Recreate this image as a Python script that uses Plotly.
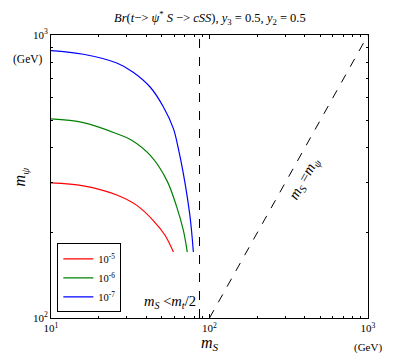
import plotly.graph_objects as go

# m_S (GeV) and m_psi (GeV), one curve per Br value
ms_1e5 = [10, 16.0, 26.0, 34.8, 44.2, 52.4, 59.2]
mpsi_1e5 = [300, 293, 272, 250, 221, 196, 171]

ms_1e6 = [10, 16.0, 26.0, 32.3, 42.2, 53.7, 62.1, 68.4, 72.4]
mpsi_1e6 = [505, 490, 448, 425, 376, 307, 247, 204, 171]

ms_1e7 = [10, 16.0, 26.0, 33.0, 42.2, 51.2, 59.2, 63.6, 68.4, 75.4, 79.1]
mpsi_1e7 = [881, 855, 796, 739, 655, 557, 467, 397, 324, 228, 171]

series = [
    ("10<sup>-5</sup>", ms_1e5, mpsi_1e5, "red"),
    ("10<sup>-6</sup>", ms_1e6, mpsi_1e6, "green"),
    ("10<sup>-7</sup>", ms_1e7, mpsi_1e7, "blue"),
]

mt_half = 86.5
diag = [100, 1000]

FONT = "Liberation Serif"

fig = go.Figure()
for name, xs, ys, col in series:
    fig.add_trace(go.Scatter(x=xs, y=ys, mode="lines", name=name,
                             line=dict(color=col, width=1.2, shape="spline")))

fig.add_trace(go.Scatter(x=[mt_half, mt_half], y=[100, 1000], mode="lines",
                         line=dict(color="black", width=1, dash="dash"), showlegend=False))
fig.add_trace(go.Scatter(x=diag, y=diag, mode="lines",
                         line=dict(color="black", width=1, dash="dash"), showlegend=False))

minor_vals = [v * d for d in (10, 100) for v in range(2, 10)]

axis_common = dict(
    type="log", showgrid=False, zeroline=False,
    showline=True, linecolor="black", linewidth=1, mirror="ticks",
    ticks="inside", ticklen=4, tickcolor="black",
    tickfont=dict(family=FONT, size=11, color="black"),
    minor=dict(ticks="inside", ticklen=2, tickcolor="black", tickvals=minor_vals),
)

fig.update_xaxes(range=[1, 3], tickvals=[10, 100, 1000],
                 ticktext=["10<sup>1</sup>", "10<sup>2</sup>", "10<sup>3</sup>"], **axis_common)
fig.update_yaxes(range=[2, 3], tickvals=[100, 1000],
                 ticktext=["10<sup>2</sup>", "10<sup>3</sup>"], **axis_common)

ann = [
    dict(text="<i>Br</i>(<i>t</i>−&gt; <i>ψ</i><sup>*</sup> <i>S</i> −&gt; <i>cSS</i>), <i>y</i><sub>3</sub> = 0.5, <i>y</i><sub>2</sub> = 0.5",
         x=0.5, y=1.02, xref="paper", yref="paper", xanchor="center", yanchor="bottom", font=dict(size=12.5)),
    dict(text="<i>m</i><sub><i>S</i></sub>", x=0.5, y=-0.05, xref="paper", yref="paper",
         xanchor="center", yanchor="top", font=dict(size=16)),
    dict(text="(GeV)", x=1.0, y=-0.075, xref="paper", yref="paper",
         xanchor="center", yanchor="top", font=dict(size=11)),
    dict(text="<i>m</i><sub><i>ψ</i></sub>", x=-0.095, y=0.5, xref="paper", yref="paper",
         xanchor="center", yanchor="middle", textangle=-90, font=dict(size=16)),
    dict(text="(GeV)", x=-0.02, y=0.915, xref="paper", yref="paper",
         xanchor="right", yanchor="middle", font=dict(size=11.5)),
    dict(text="<i>m</i><sub><i>S</i></sub> &lt;<i>m</i><sub><i>t</i></sub>/2", x=1.925, y=2.055,
         xref="x", yref="y", xanchor="right", yanchor="middle", font=dict(size=14.5)),
    dict(text="<i>m</i><sub><i>S</i></sub> =<i>m</i><sub><i>ψ</i></sub>", x=2.6, y=2.49,
         xref="x", yref="y", xanchor="center", yanchor="middle", textangle=-60.7, font=dict(size=15)),
]
for a in ann:
    a["showarrow"] = False
    a["font"]["family"] = FONT
    a["font"]["color"] = "black"

fig.update_layout(
    width=409, height=354,
    margin=dict(l=51, r=41, t=35, b=36),
    paper_bgcolor="white", plot_bgcolor="white",
    annotations=ann,
    legend=dict(x=0.02, y=0.02, xanchor="left", yanchor="bottom",
                bordercolor="black", borderwidth=1, bgcolor="white",
                tracegroupgap=0, itemwidth=30,
                font=dict(family=FONT, size=10.5, color="black")),
)

# drop the page's default body margin so the figure sits at the window's corner
fig.write_html("out.html", config={"displayModeBar": False},
               post_script="document.body.style.margin='0';")
